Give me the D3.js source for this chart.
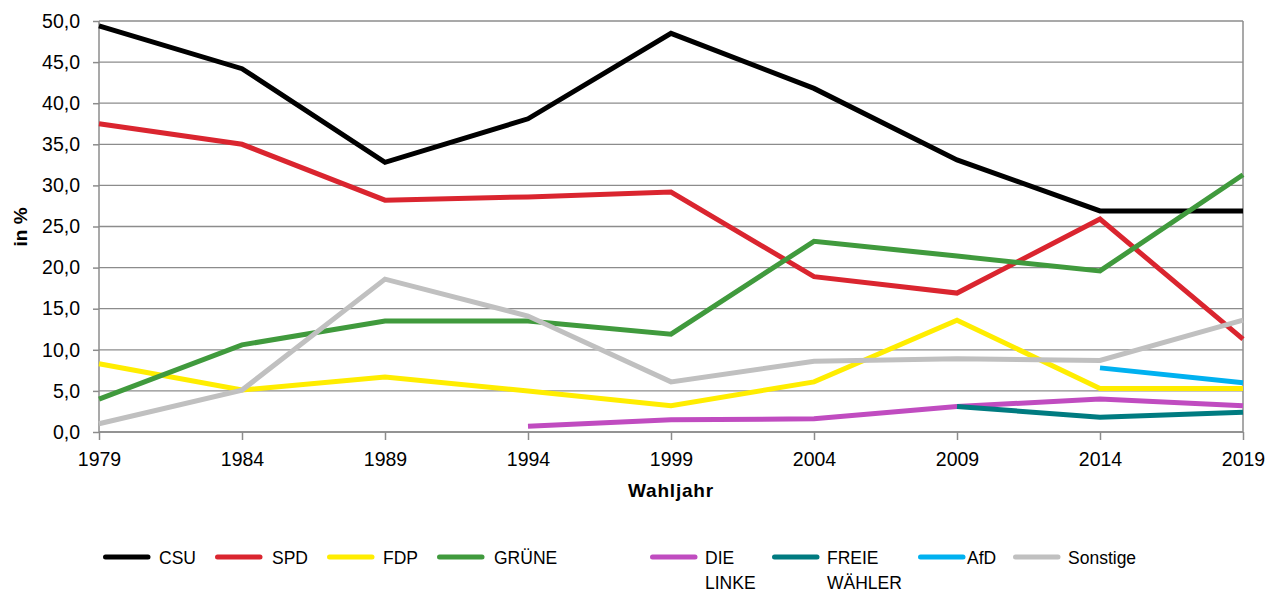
<!DOCTYPE html>
<html>
<head>
<meta charset="utf-8">
<script src="https://cdn.jsdelivr.net/npm/d3@7"></script>
<style>
  body { margin: 0; background: #fff; }
  text { font-family: "Liberation Sans", Arial, sans-serif; fill: #000; }
</style>
</head>
<body>
<script>
    var years = [1979, 1984, 1989, 1994, 1999, 2004, 2009, 2014, 2019];
    var yTicks = [0, 5, 10, 15, 20, 25, 30, 35, 40, 45, 50];

    // vote shares in %, null = did not run
    var csu      = [49.4, 44.2, 32.8, 38.1, 48.5, 41.8, 33.1, 26.9, 26.9];
    var spd      = [37.5, 35.0, 28.2, 28.6, 29.2, 18.9, 16.9, 25.9, 11.3];
    var fdp      = [8.3, 5.1, 6.7, 5.0, 3.2, 6.1, 13.6, 5.3, 5.3];
    var gruene   = [4.0, 10.6, 13.5, 13.5, 11.9, 23.2, 21.4, 19.6, 31.3];
    var linke    = [null, null, null, 0.7, 1.5, 1.6, 3.1, 4.0, 3.2];
    var fw       = [null, null, null, null, null, null, 3.1, 1.8, 2.4];
    var afd      = [null, null, null, null, null, null, null, 7.8, 6.0];
    var sonstige = [1.0, 5.1, 18.6, 14.1, 6.1, 8.6, 8.9, 8.7, 13.6];

    var series = [
        {name: ['CSU'], values: csu, color: '#000000'},
        {name: ['SPD'], values: spd, color: '#da252f'},
        {name: ['FDP'], values: fdp, color: '#ffed00'},
        {name: ['GRÜNE'], values: gruene, color: '#409a3d'},
        {name: ['DIE', 'LINKE'], values: linke, color: '#c04cc0'},
        {name: ['FREIE', 'WÄHLER'], values: fw, color: '#007b80'},
        {name: ['AfD'], values: afd, color: '#00b1f0'},
        {name: ['Sonstige'], values: sonstige, color: '#c0c0c0'}
    ];

    var width = 1276, height = 593;
    var pLeft = 99, pRight = 1243, pTop = 21, pBottom = 432;

    var svg = d3.select('body').append('svg')
            .attr('width', width)
            .attr('height', height);

    var x = d3.scaleLinear().domain([1979, 2019]).range([pLeft, pRight]);
    var y = d3.scaleLinear().domain([0, 50]).range([pBottom, pTop]);

    // gridlines
    svg.append('g').selectAll('line')
            .data(yTicks)
            .enter().append('line')
            .attr('x1', pLeft).attr('x2', pRight)
            .attr('y1', function (d) { return y(d); })
            .attr('y2', function (d) { return y(d); })
            .attr('stroke', '#8c8c8c')
            .attr('stroke-width', 1.3);

    // y axis
    var yAxis = svg.append('g')
            .attr('transform', 'translate(' + pLeft + ',0)')
            .call(d3.axisLeft(y).tickValues(yTicks).tickSize(6).tickPadding(13)
                    .tickFormat(function (d) { return d3.format('.1f')(d).replace('.', ','); }));
    // x axis
    var xAxis = svg.append('g')
            .attr('transform', 'translate(0,' + pBottom + ')')
            .call(d3.axisBottom(x).tickValues(years).tickSize(8).tickPadding(12)
                    .tickFormat(d3.format('d')));

    [yAxis, xAxis].forEach(function (a) {
        a.selectAll('path.domain').attr('stroke', '#8c8c8c').attr('stroke-width', 1.5);
        a.selectAll('.tick line').attr('stroke', '#8c8c8c').attr('stroke-width', 1.5);
        a.selectAll('text').style('font-family', '"Liberation Sans", Arial, sans-serif')
                .style('font-size', '19.5px').attr('fill', '#000');
    });
    xAxis.select('path.domain').attr('d', 'M' + pLeft + ',0H' + pRight);
    yAxis.select('path.domain').attr('d', 'M0,' + pTop + 'V' + pBottom);

    // right border
    svg.append('line')
            .attr('x1', pRight).attr('x2', pRight)
            .attr('y1', pTop).attr('y2', pBottom)
            .attr('stroke', '#8c8c8c').attr('stroke-width', 1.5);

    // axis titles
    svg.append('text')
            .attr('x', 671).attr('y', 497)
            .attr('text-anchor', 'middle')
            .style('font-size', '19px').style('font-weight', 'bold')
            .style('letter-spacing', '0.8px')
            .text('Wahljahr');
    svg.append('text')
            .attr('transform', 'translate(27,' + 227 + ') rotate(-90)')
            .attr('text-anchor', 'middle')
            .style('font-size', '19px').style('font-weight', 'bold')
            .text('in %');

    // lines
    var line = d3.line()
            .defined(function (d) { return d.v !== null; })
            .x(function (d) { return x(d.year); })
            .y(function (d) { return y(d.v); });

    svg.append('g').selectAll('path')
            .data(series)
            .enter().append('path')
            .attr('fill', 'none')
            .attr('stroke', function (d) { return d.color; })
            .attr('stroke-width', 5)
            .attr('stroke-linejoin', 'miter')
            .attr('d', function (d) {
                return line(d.values.map(function (v, i) { return {year: years[i], v: v}; }));
            });

    // legend
    var legendPos = [103, 215, 327, 437, 650, 772, 918, 1013];
    var textOff = [56, 57, 56, 57, 55, 55, 49, 55];
    var legend = svg.append('g').selectAll('g')
            .data(series)
            .enter().append('g')
            .attr('transform', function (d, i) { return 'translate(' + legendPos[i] + ',557)'; });
    legend.append('line')
            .attr('x1', 2.5).attr('x2', 45)
            .attr('y1', 0).attr('y2', 0)
            .attr('stroke', function (d) { return d.color; })
            .attr('stroke-width', 5)
            .attr('stroke-linecap', 'round');
    legend.each(function (d, i) {
        var t = d3.select(this).append('text')
                .attr('x', textOff[i]).attr('y', 7)
                .style('font-size', '17.5px');
        d.name.forEach(function (n, j) {
            t.append('tspan').attr('x', textOff[i]).attr('dy', j === 0 ? 0 : 25).text(n);
        });
    });
</script>
</body>
</html>
